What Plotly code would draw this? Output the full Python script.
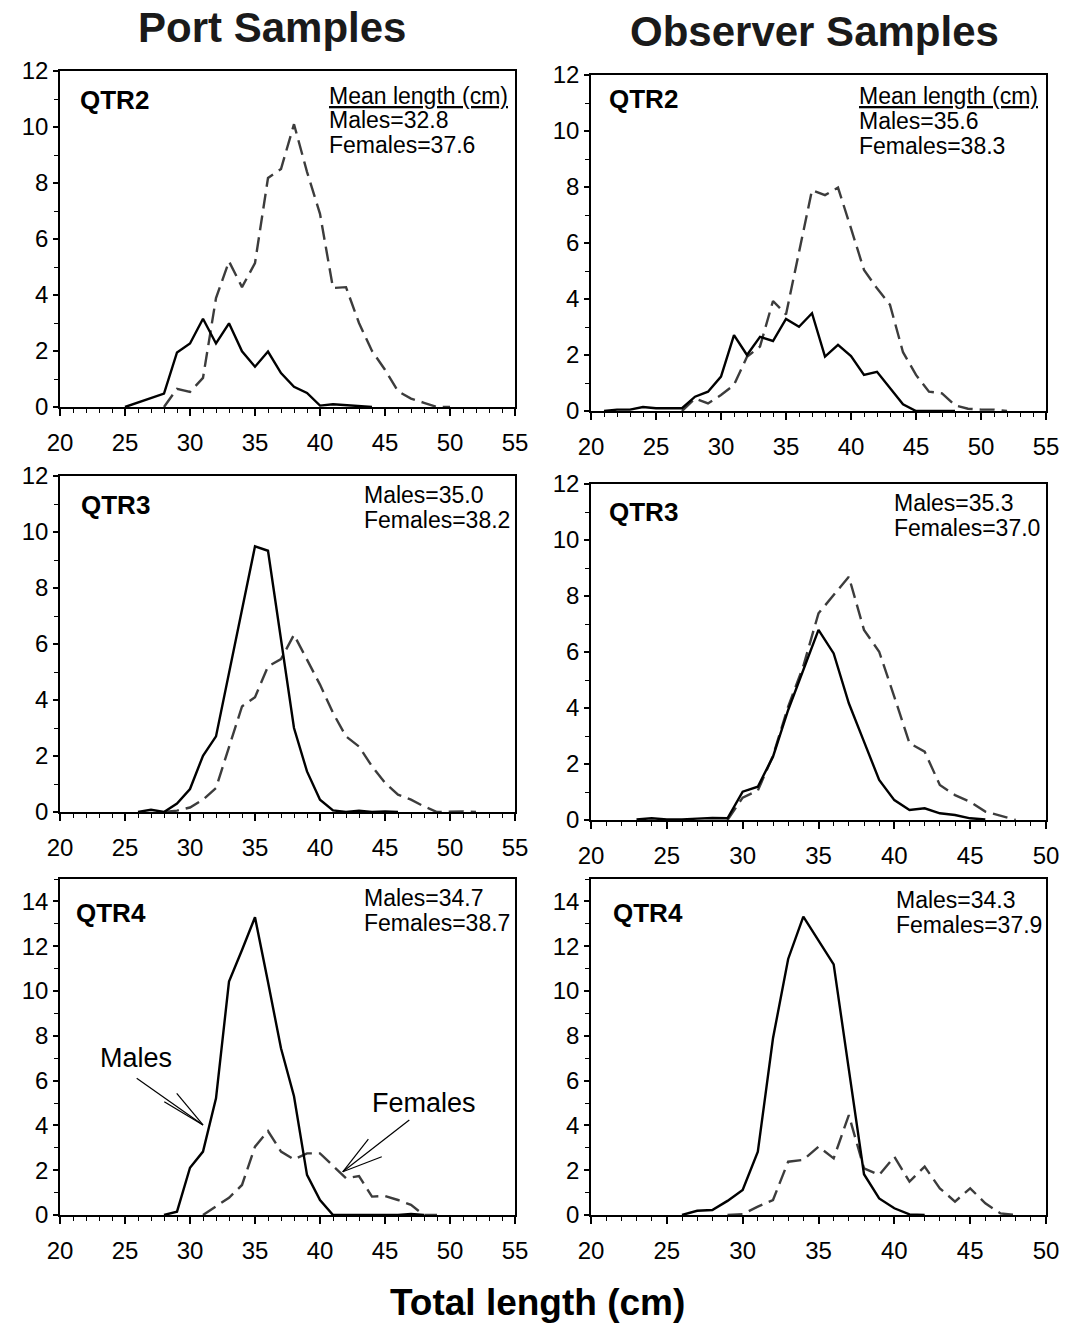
import plotly.graph_objects as go

W, H = 1068, 1323
FONT = "Liberation Sans, Arial, Helvetica, sans-serif"

# ---------------- data (length in cm, percent frequency) ----------------
port_q2_male_len = list(range(25, 45))
port_q2_male = [0, 0.16, 0.33, 0.48, 1.95, 2.27, 3.15, 2.27, 2.99, 1.99, 1.44, 1.98, 1.21, 0.72, 0.5, 0.05, 0.1, 0.06, 0.04, 0]
port_q2_female_len = list(range(28, 51))
port_q2_female = [0, 0.65, 0.54, 1.04, 3.89, 5.2, 4.28, 5.14, 8.18, 8.5, 10.1, 8.4, 6.9, 4.25, 4.28, 3.0, 2.0, 1.33, 0.56, 0.3, 0.15, 0, 0]

obs_q2_male_len = list(range(21, 49))
obs_q2_male = [0, 0.05, 0.05, 0.14, 0.1, 0.1, 0.1, 0.51, 0.69, 1.23, 2.71, 2.0, 2.65, 2.5, 3.29, 3.01, 3.49, 1.94, 2.36, 1.96, 1.29, 1.40, 0.81, 0.24, 0, 0, 0, 0]
obs_q2_female_len = list(range(27, 53))
obs_q2_female = [0, 0.45, 0.27, 0.57, 0.93, 1.94, 2.3, 3.93, 3.45, 5.69, 7.89, 7.71, 7.98, 6.52, 5.04, 4.38, 3.79, 2.1, 1.29, 0.69, 0.63, 0.2, 0.08, 0.05, 0.05, 0]

port_q3_male_len = list(range(26, 47))
port_q3_male = [0, 0.08, 0, 0.3, 0.82, 2.01, 2.7, 4.96, 7.16, 9.49, 9.33, 6.1, 3.0, 1.45, 0.44, 0.06, 0, 0.05, 0, 0.02, 0]
port_q3_female_len = list(range(28, 53))
port_q3_female = [0, 0.05, 0.16, 0.44, 0.86, 2.34, 3.77, 4.1, 5.2, 5.46, 6.33, 5.44, 4.55, 3.54, 2.7, 2.34, 1.63, 1.04, 0.62, 0.44, 0.2, 0, 0.02, 0.02, 0]

obs_q3_male_len = list(range(23, 47))
obs_q3_male = [0.02, 0.06, 0.02, 0.02, 0.05, 0.07, 0.06, 1.01, 1.19, 2.26, 3.93, 5.36, 6.79, 5.95, 4.17, 2.8, 1.43, 0.71, 0.36, 0.42, 0.24, 0.18, 0.06, 0.02]
obs_q3_female_len = list(range(29, 49))
obs_q3_female = [0, 0.8, 1.05, 2.3, 4.05, 5.5, 7.38, 8.04, 8.69, 6.79, 6.01, 4.4, 2.74, 2.44, 1.25, 0.89, 0.65, 0.3, 0.15, 0]

port_q4_male_len = list(range(28, 49))
port_q4_male = [0, 0.15, 2.11, 2.83, 5.21, 10.42, 11.83, 13.29, 10.4, 7.44, 5.3, 1.79, 0.67, 0, 0, 0, 0, 0, 0, 0.05, 0]
port_q4_female_len = list(range(31, 50))
port_q4_female = [0, 0.37, 0.77, 1.34, 3.05, 3.75, 2.83, 2.48, 2.75, 2.75, 2.2, 1.64, 1.74, 0.82, 0.85, 0.67, 0.45, 0, 0]

obs_q4_male_len = list(range(26, 43))
obs_q4_male = [0, 0.19, 0.22, 0.63, 1.12, 2.83, 7.89, 11.43, 13.32, 12.25, 11.19, 6.5, 1.82, 0.74, 0.3, 0.03, 0]
obs_q4_female_len = list(range(29, 49))
obs_q4_female = [0, 0.04, 0.37, 0.67, 2.38, 2.46, 3.05, 2.53, 4.46, 2.08, 1.79, 2.6, 1.49, 2.16, 1.19, 0.6, 1.19, 0.52, 0.07, 0]

panel_titles = ["QTR2", "QTR2", "QTR3", "QTR3", "QTR4", "QTR4"]
mean_males = ["32.8", "35.6", "35.0", "35.3", "34.7", "34.3"]
mean_females = ["37.6", "38.3", "38.2", "37.0", "38.7", "37.9"]
x_ranges = [[20, 55], [20, 55], [20, 55], [20, 50], [20, 55], [20, 50]]
y_ranges = [[0, 12], [0, 12], [0, 12], [0, 12], [0, 15], [0, 15]]

series = [
    (port_q2_male_len, port_q2_male, port_q2_female_len, port_q2_female),
    (obs_q2_male_len, obs_q2_male, obs_q2_female_len, obs_q2_female),
    (port_q3_male_len, port_q3_male, port_q3_female_len, port_q3_female),
    (obs_q3_male_len, obs_q3_male, obs_q3_female_len, obs_q3_female),
    (port_q4_male_len, port_q4_male, port_q4_female_len, port_q4_female),
    (obs_q4_male_len, obs_q4_male, obs_q4_female_len, obs_q4_female),
]

# ---------------- layout geometry (pixels) ----------------
# plot area boxes: left, right, top, bottom
boxes = [
    (60, 515, 71, 407),
    (591, 1046, 75, 411),
    (60, 515, 476, 812),
    (591, 1046, 484, 820),
    (60, 515, 879, 1215),
    (591, 1046, 879, 1215),
]
qtr_pos = [(78, 100), (607, 99), (79, 505), (607, 512), (74, 913), (611, 913)]
mean_pos = [(327, 120), (857, 121), (362, 495), (892, 503), (362, 898), (894, 900)]
header_pos = [(327, 96), (857, 96)]


def px(x):
    return x / W


def py(y):
    return 1 - y / H


fig = go.Figure()
layout = dict(
    width=W, height=H, autosize=False,
    margin=dict(l=0, r=0, t=0, b=0, pad=0),
    paper_bgcolor="white", plot_bgcolor="white",
    showlegend=False,
    font=dict(family=FONT, color="black"),
)

annotations = []
for i, (box, (mx, my, fx, fy)) in enumerate(zip(boxes, series)):
    n = "" if i == 0 else str(i + 1)
    l, r, t, b = box
    layout["xaxis" + n] = dict(
        domain=[px(l), px(r)], anchor="y" + n, range=x_ranges[i], automargin=False,
        tick0=20, dtick=5, ticks="outside", ticklen=7, tickwidth=1.5, tickcolor="black",
        showline=True, linecolor="black", linewidth=1.5, mirror=True,
        showgrid=False, zeroline=False, ticklabelstandoff=6,
        tickfont=dict(size=24, family=FONT, color="black"),
        minor=dict(dtick=1, tick0=20, ticks="outside", ticklen=4, tickwidth=1, tickcolor="black"),
    )
    layout["yaxis" + n] = dict(
        domain=[py(b), py(t)], anchor="x" + n, range=y_ranges[i], automargin=False,
        tick0=0, dtick=2, ticks="outside", ticklen=5, tickwidth=1.5, tickcolor="black",
        showline=True, linecolor="black", linewidth=1.5, mirror=True,
        showgrid=False, zeroline=False,
        tickfont=dict(size=24, family=FONT, color="black"),
        minor=dict(dtick=1, tick0=0, ticks="outside", ticklen=4, tickwidth=1, tickcolor="black"),
    )
    fig.add_trace(go.Scatter(x=fx, y=fy, mode="lines", xaxis="x" + n, yaxis="y" + n,
                             line=dict(color="#3c3c3c", width=2.4, dash="15px,7px"),
                             cliponaxis=False, name="Females"))
    fig.add_trace(go.Scatter(x=mx, y=my, mode="lines", xaxis="x" + n, yaxis="y" + n,
                             line=dict(color="black", width=2.4),
                             cliponaxis=False, name="Males"))

    qx, qy = qtr_pos[i]
    annotations.append(dict(text="<b>%s</b>" % panel_titles[i], x=px(qx), y=py(qy),
                            xref="paper", yref="paper", xanchor="left", yanchor="middle",
                            showarrow=False, font=dict(size=26, family=FONT, color="black")))
    ax_, ay_ = mean_pos[i]
    annotations.append(dict(text="Males=" + mean_males[i], x=px(ax_), y=py(ay_),
                            xref="paper", yref="paper", xanchor="left", yanchor="middle",
                            showarrow=False, font=dict(size=23, family=FONT, color="black")))
    annotations.append(dict(text="Females=" + mean_females[i], x=px(ax_), y=py(ay_ + 25),
                            xref="paper", yref="paper", xanchor="left", yanchor="middle",
                            showarrow=False, font=dict(size=23, family=FONT, color="black")))

for hx, hy in header_pos:
    annotations.append(dict(text="<u>Mean length (cm)</u>", x=px(hx), y=py(hy),
                            xref="paper", yref="paper", xanchor="left", yanchor="middle",
                            showarrow=False, font=dict(size=23, family=FONT, color="black")))

annotations.append(dict(text="<b>Port Samples</b>", x=px(272), y=py(27), xref="paper", yref="paper",
                        xanchor="center", yanchor="middle", showarrow=False,
                        font=dict(size=42, family=FONT, color="#1a1a1a")))
annotations.append(dict(text="<b>Observer Samples</b>", x=px(814), y=py(31), xref="paper", yref="paper",
                        xanchor="center", yanchor="middle", showarrow=False,
                        font=dict(size=42, family=FONT, color="#1a1a1a")))
annotations.append(dict(text="<b>Total length (cm)</b>", x=px(537), y=py(1302), xref="paper", yref="paper",
                        xanchor="center", yanchor="middle", showarrow=False,
                        font=dict(size=37, family=FONT, color="black")))

# Callout labels on QTR4 port panel (data coords of x5/y5)
males_label = (25.85, 7.0)
females_label = (48.0, 5.0)
males_tip = (31.0, 4.02)
males_tails = [(25.9, 6.1), (28.98, 5.43), (28.02, 5.06)]
females_tip = (41.75, 1.93)
females_tails = [(46.87, 4.24), (43.72, 3.39), (44.75, 2.6)]

annotations.append(dict(text="Males", x=males_label[0], y=males_label[1], xref="x5", yref="y5",
                        showarrow=False, font=dict(size=27, family=FONT, color="black")))
annotations.append(dict(text="Females", x=females_label[0], y=females_label[1], xref="x5", yref="y5",
                        showarrow=False, font=dict(size=27, family=FONT, color="black")))

shapes = []
for tip, tails in ((males_tip, males_tails), (females_tip, females_tails)):
    for tx, ty in tails:
        shapes.append(dict(type="line", xref="x5", yref="y5", x0=tx, y0=ty, x1=tip[0], y1=tip[1],
                           line=dict(color="black", width=1.2)))

layout["annotations"] = annotations
layout["shapes"] = shapes
fig.update_layout(**layout)
fig.write_html("out.html")
